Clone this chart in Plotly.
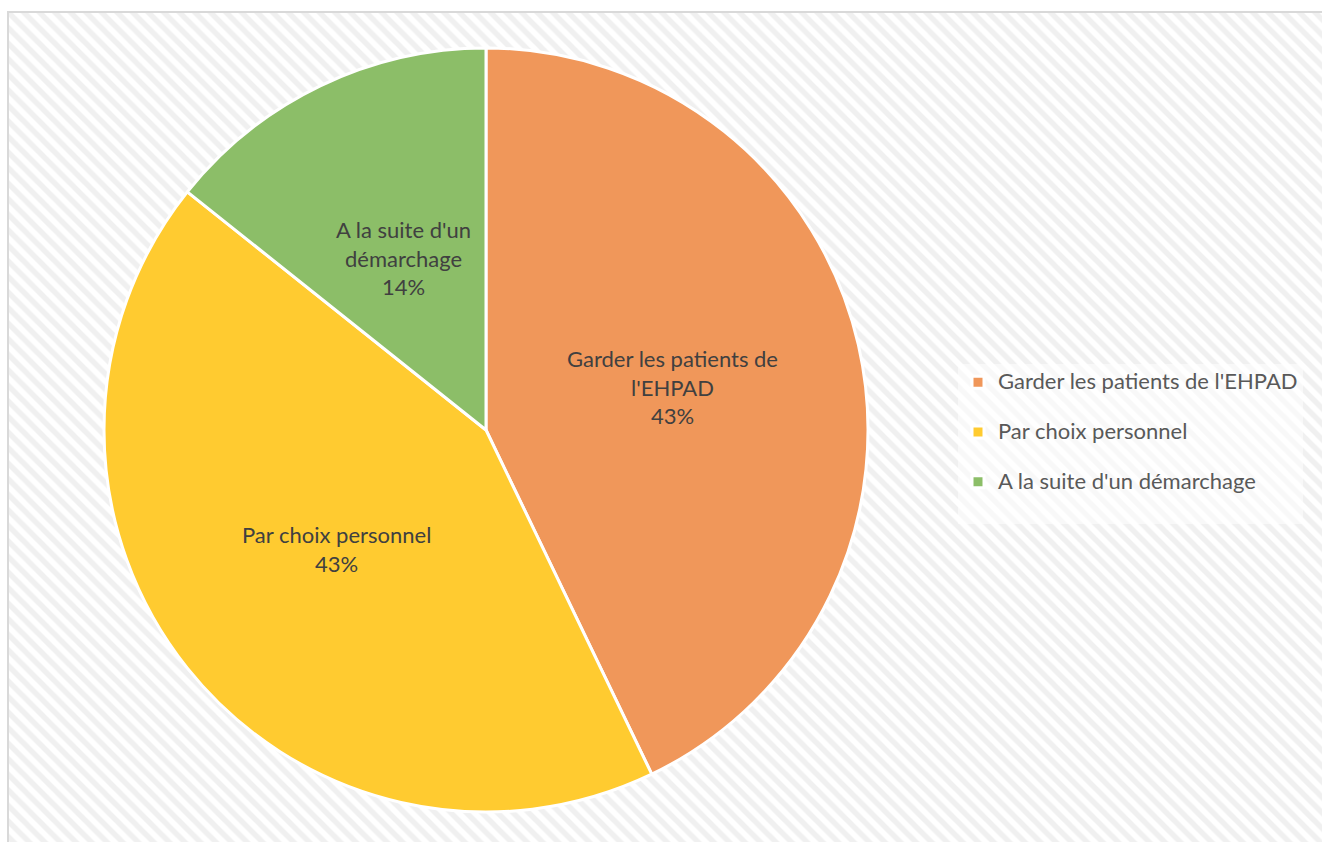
import numpy as np
import plotly.graph_objects as go

# ---- data ----
categories = ["Garder les patients de l'EHPAD", "Par choix personnel", "A la suite d'un démarchage"]
values = [3, 3, 1]
slice_labels = ["Garder les patients de<br>l'EHPAD", "Par choix personnel", "A la suite d'un<br>démarchage"]
colors = ["#F0975A", "#FFCB30", "#8CBE68"]

W, H = 1322, 842
cx, cy, R = 486, 430, 382  # pie centre / radius in px

fig = go.Figure()

# hatched chart-area background
fig.add_trace(go.Bar(
    x=[0.5], y=[1], width=[1], xaxis="x", yaxis="y",
    marker=dict(color="white", line=dict(width=0),
                pattern=dict(shape="\\", fgcolor="#E2E2E2", bgcolor="white", size=11, solidity=0.5)),
    hoverinfo="skip", showlegend=False,
))

fig.add_trace(go.Pie(
    labels=[f"<span style='font-size:22px'>{c}</span><br> " for c in categories],
    values=values,
    customdata=categories,
    sort=False,
    direction="clockwise",
    rotation=0,
    marker=dict(colors=colors, line=dict(color="white", width=3)),
    textinfo="none",
    hovertemplate="%{customdata}: %{percent}<extra></extra>",
    domain=dict(x=[(cx - R) / W, (cx + R) / W], y=[1 - (cy + R) / H, 1 - (cy - R) / H]),
))

# data labels placed at half radius on each slice's mid angle (computed from values)
vals = np.array(values, dtype=float)
fr = vals / vals.sum()
cum = np.cumsum(fr) - fr / 2
theta = 2 * np.pi * cum
annotations = []
for lab, f, t in zip(slice_labels, fr, theta):
    px = cx + 0.5 * R * np.sin(t)
    py = cy - 0.5 * R * np.cos(t)
    annotations.append(dict(
        x=px / W, y=1 - py / H, xref="paper", yref="paper",
        text=f"{lab}<br>{round(f * 100):.0f}%", showarrow=False,
        font=dict(family="Lato", size=22, color="#404040"),
        xanchor="center", yanchor="middle", align="center",
    ))

fig.update_layout(
    width=W, height=H,
    margin=dict(l=0, r=0, t=0, b=0),
    paper_bgcolor="white", plot_bgcolor="white",
    xaxis=dict(domain=[9 / W, 1], range=[0, 1], visible=False, fixedrange=True),
    yaxis=dict(domain=[0, 1 - 13 / H], range=[0, 1], visible=False, fixedrange=True),
    bargap=0,
    showlegend=True,
    legend=dict(
        x=958 / W, y=1 - 364 / H, xanchor="left", yanchor="top",
        bgcolor="rgba(255,255,255,0.55)",
        font=dict(family="Lato", size=18, color="#595959"),
        valign="top", itemclick=False, itemdoubleclick=False,
    ),
    annotations=annotations,
    shapes=[dict(type="rect", xref="paper", yref="paper",
                 x0=8 / W, x1=1.01, y0=-0.01, y1=1 - 12 / H,
                 line=dict(color="#D9D9D9", width=2), layer="above")],
)

fig.write_html("out.html")
